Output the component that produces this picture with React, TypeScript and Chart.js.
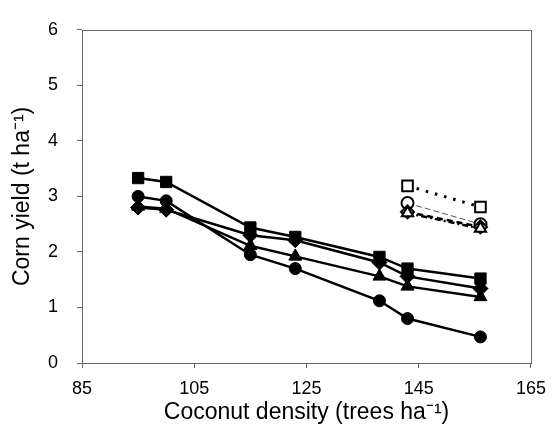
import React, { useEffect, useRef } from 'react';
import { Chart, registerables } from 'chart.js';

Chart.register(...registerables);

const densities = [95, 100, 115, 123, 138, 143, 156];
const squareYield = [3.33, 3.26, 2.44, 2.27, 1.91, 1.7, 1.52];
const diamondYield = [2.8, 2.76, 2.3, 2.21, 1.81, 1.56, 1.34];
const triangleYield = [2.82, 2.78, 2.11, 1.92, 1.56, 1.38, 1.19];
const circleYield = [3.0, 2.92, 1.95, 1.7, 1.12, 0.8, 0.47];

const openDensities = [143, 156];
const openSquareYield = [3.19, 2.81];
const openCircleYield = [2.88, 2.5];
const openDiamondYield = [2.72, 2.45];
const openTriangleYield = [2.7, 2.42];

const xTickValues = [85, 105, 125, 145, 165];
const yTickValues = [0, 1, 2, 3, 4, 5, 6];

const FONT = '"Liberation Sans", Arial, sans-serif';

const toPts = (xs: number[], ys: number[]) => xs.map((x, i) => ({ x, y: ys[i] }));

const frame = {
  id: 'frame',
  beforeDatasetsDraw(chart: any) {
    const { ctx, chartArea } = chart;
    ctx.save();
    ctx.strokeStyle = '#666';
    ctx.lineWidth = 1;
    ctx.strokeRect(
      Math.round(chartArea.left) + 0.5,
      Math.round(chartArea.top) + 0.5,
      Math.round(chartArea.right - chartArea.left),
      Math.round(chartArea.bottom - chartArea.top)
    );
    ctx.restore();
  },
};

export default function App() {
  const ref = useRef<HTMLCanvasElement | null>(null);

  useEffect(() => {
    document.body.style.margin = '0';
    const canvas = ref.current;
    if (!canvas) return;

    const filled = (data: number[], style: string, radius: number) => ({
      data: toPts(densities, data),
      borderColor: '#000',
      backgroundColor: '#000',
      borderWidth: 2.5,
      pointStyle: style,
      pointRadius: radius,
      pointBorderWidth: 1,
      pointBackgroundColor: '#000',
      pointBorderColor: '#000',
      tension: 0,
    });
    const open = (data: number[], style: string, radius: number, dash: number[], width: number, color: string) => ({
      data: toPts(openDensities, data),
      borderColor: color,
      backgroundColor: '#fff',
      borderWidth: width,
      borderDash: dash,
      pointStyle: style,
      pointRadius: radius,
      pointBorderWidth: 2,
      pointBackgroundColor: '#fff',
      pointBorderColor: '#000',
      tension: 0,
    });

    const chart = new Chart(canvas, {
      type: 'line',
      data: {
        datasets: [
          filled(circleYield, 'circle', 6),
          filled(triangleYield, 'triangle', 7.5),
          filled(diamondYield, 'rectRot', 7.5),
          filled(squareYield, 'rect', 8),
          open(openTriangleYield, 'triangle', 6.5, [6, 3, 2, 3], 2.5, '#000'),
          open(openDiamondYield, 'rectRot', 6.5, [6, 4], 2.5, '#000'),
          open(openCircleYield, 'circle', 6, [6, 3], 1, '#555'),
          open(openSquareYield, 'rect', 7.5, [2.5, 7], 3, '#000'),
        ] as any,
      },
      options: {
        animation: false,
        responsive: false,
        maintainAspectRatio: false,
        layout: { padding: { top: 21, right: 18, left: 0, bottom: 0 } },
        plugins: { legend: { display: false }, tooltip: { enabled: false } },
        scales: {
          x: {
            type: 'linear',
            min: 85,
            max: 165,
            afterBuildTicks: (s: any) => {
              s.ticks = xTickValues.map((v) => ({ value: v }));
            },
            afterFit: (s: any) => {
              s.height = 75;
            },
            grid: { display: true, drawOnChartArea: false, drawTicks: true, tickLength: 5, color: '#666' },
            border: { display: false },
            ticks: { color: '#000', font: { family: FONT, size: 18 }, padding: 10, maxRotation: 0 },
            title: {
              display: true,
              text: 'Coconut density (trees ha⁻¹)',
              color: '#000',
              font: { family: FONT, size: 23 },
              padding: { top: 0, bottom: 12 },
            },
          },
          y: {
            type: 'linear',
            min: 0,
            max: 6,
            afterBuildTicks: (s: any) => {
              s.ticks = yTickValues.map((v) => ({ value: v }));
            },
            afterFit: (s: any) => {
              s.width = 82;
            },
            grid: { display: true, drawOnChartArea: false, drawTicks: true, tickLength: 5, color: '#666' },
            border: { display: false },
            ticks: { color: '#000', font: { family: FONT, size: 18 }, padding: 19 },
            title: {
              display: true,
              text: 'Corn yield (t ha⁻¹)',
              color: '#000',
              font: { family: FONT, size: 23 },
              padding: { top: 9, bottom: 0 },
            },
          },
        },
      },
      plugins: [frame],
    });

    return () => chart.destroy();
  }, []);

  return (
    <div style={{ width: 556, height: 438, background: '#fff' }}>
      <canvas ref={ref} width={556} height={438} style={{ display: 'block' }} />
    </div>
  );
}
